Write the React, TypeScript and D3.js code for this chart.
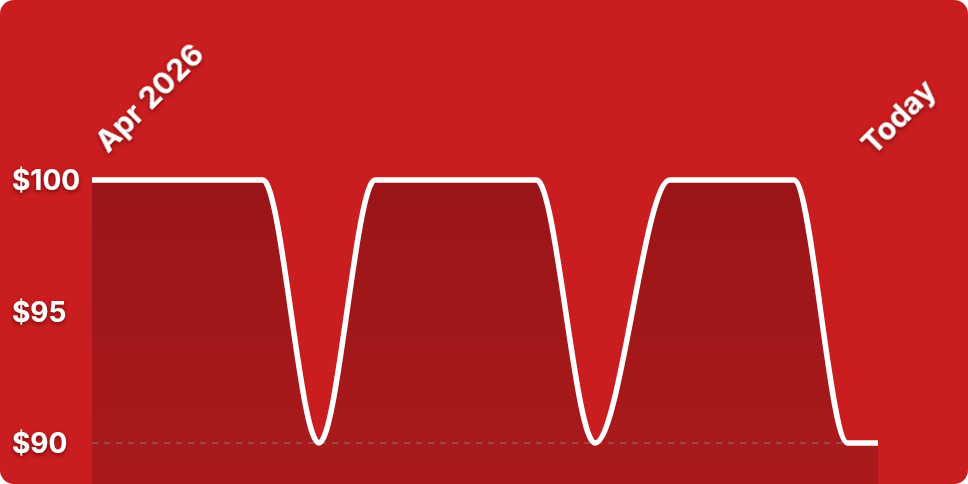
import React from 'react';
import * as d3 from 'd3';

const dates = [
  '2026-04-01T00:00', '2026-04-04T01:00', '2026-04-05T01:00', '2026-04-06T01:00',
  '2026-04-08T22:00', '2026-04-09T23:00', '2026-04-11T07:00', '2026-04-13T12:00',
  '2026-04-14T11:00', '2026-04-15T00:00',
];
const prices = [100, 100, 90, 100, 100, 90, 100, 100, 90, 90];
const yTicks = [90, 95, 100];
const xLabels = ['Apr 2026', 'Today'];

const W = 968;
const H = 484;

type Pt = { date: Date; price: number };

export default function App() {
  const data: Pt[] = dates.map((d, i) => ({ date: new Date(d), price: prices[i] }));

  const x = d3.scaleTime()
    .domain(d3.extent(data, d => d.date) as [Date, Date])
    .range([92, 878]);
  const y = d3.scaleLinear().domain([90, 100]).range([443, 180]);

  const line = d3.line<Pt>()
    .x(d => x(d.date))
    .y(d => y(d.price))
    .curve(d3.curveMonotoneX);
  const area = d3.area<Pt>()
    .x(d => x(d.date))
    .y0(H)
    .y1(d => y(d.price))
    .curve(d3.curveMonotoneX);

  const [x0, x1] = x.range();

  return (
    <svg width={W} height={H} style={{ position: 'absolute', left: 0, top: 0 }}
      fontFamily="Inter, Liberation Sans, Arial, sans-serif">
      <defs>
        <linearGradient id="areaFill" x1="0" y1="0" x2="0" y2="1">
          <stop offset="0%" stopColor="#9a1518" />
          <stop offset="100%" stopColor="#aa1a1b" />
        </linearGradient>
        <filter id="shadow" x="-20%" y="-20%" width="140%" height="160%">
          <feDropShadow dx="0" dy="2" stdDeviation="2" floodColor="#000" floodOpacity="0.45" />
        </filter>
        <clipPath id="card">
          <rect width={W} height={H} rx={14} />
        </clipPath>
      </defs>
      <g clipPath="url(#card)">
        <rect width={W} height={H} fill="#c91d1f" />
        <path d={area(data) ?? ''} fill="url(#areaFill)" />
        <line x1={x0} x2={x1} y1={y(90)} y2={y(90)}
          stroke="rgba(130,120,120,0.5)" strokeWidth={2} strokeDasharray="6 6" />
        <path d={line(data) ?? ''} fill="none" stroke="#fff" strokeWidth={5.5} strokeLinejoin="round" />
      </g>
      <g filter="url(#shadow)" fill="#fff" fontWeight="bold">
        {yTicks.map(t => (
          <text key={t} x={12} y={y(t)} dy="0.36em" fontSize={28}>${t}</text>
        ))}
        <text transform={`translate(${x0 + 16},154) rotate(-45)`} fontSize={30}>{xLabels[0]}</text>
        <text transform={`translate(${x1 - 4},156) rotate(-45)`} fontSize={30}>{xLabels[1]}</text>
      </g>
    </svg>
  );
}
